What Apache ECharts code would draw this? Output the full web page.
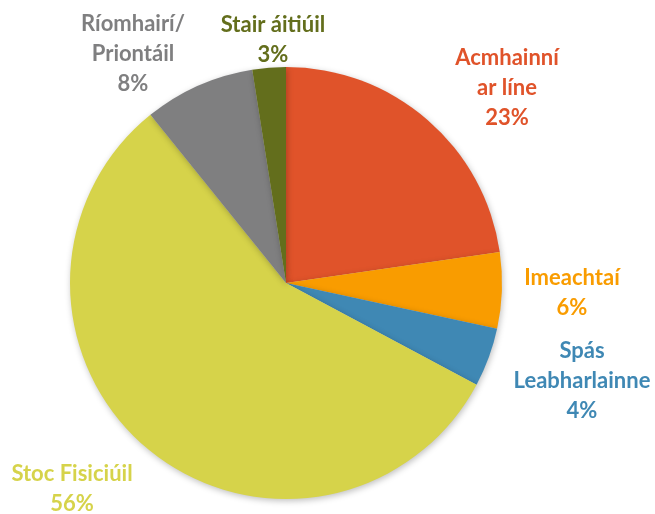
<!DOCTYPE html>
<html>
<head>
<meta charset="utf-8">
<script src="https://cdn.jsdelivr.net/npm/echarts@6/dist/echarts.min.js"></script>
<style>
  html, body { margin: 0; padding: 0; background: #fff; }
  #chart { width: 655px; height: 514px; }
</style>
</head>
<body>
<div id="chart"></div>
<script>
// catagóirí agus luachanna (céatadán)
const names = ['Acmhainní\nar líne', 'Imeachtaí', 'Spás\nLeabharlainne', 'Stoc Fisiciúil', 'Ríomhairí/\nPriontáil', 'Stair áitiúil']
const values = [22.7, 5.7, 4.4, 56.4, 8.3, 2.5]
const colors = ['#E0532A', '#F99C00', '#3F88B4', '#D6D34A', '#7F7F80', '#636E1C']

// label anchor positions (styling only)
const labelPos = [
  [507, 88], [572, 293], [582, 381], [72, 489], [133, 54], [273, 40]
]

const chart = echarts.init(document.getElementById('chart'))
chart.setOption({
  backgroundColor: '#fff',
  animation: false,
  series: [{
    type: 'pie',
    center: [286, 283],
    radius: 216,
    startAngle: 90,
    clockwise: true,
    data: names.map((n, i) => ({
      name: n,
      value: values[i],
      itemStyle: { color: colors[i] },
      label: { color: colors[i] }
    })),
    itemStyle: {
      shadowBlur: 6,
      shadowColor: 'rgba(0,0,0,0.25)',
      shadowOffsetX: 1,
      shadowOffsetY: 2
    },
    label: {
      show: true,
      position: 'outside',
      formatter: p => p.name + '\n' + Math.round(p.value) + '%',
      fontFamily: 'Lato, "Open Sans", sans-serif',
      fontWeight: 'bold',
      fontSize: 22,
      lineHeight: 30,
      align: 'center',
      overflow: 'none',
      width: 220
    },
    labelLine: { show: false },
    labelLayout: p => ({
      x: labelPos[p.dataIndex][0],
      y: labelPos[p.dataIndex][1],
      align: 'center',
      verticalAlign: 'middle'
    })
  }]
})
</script>
</body>
</html>
